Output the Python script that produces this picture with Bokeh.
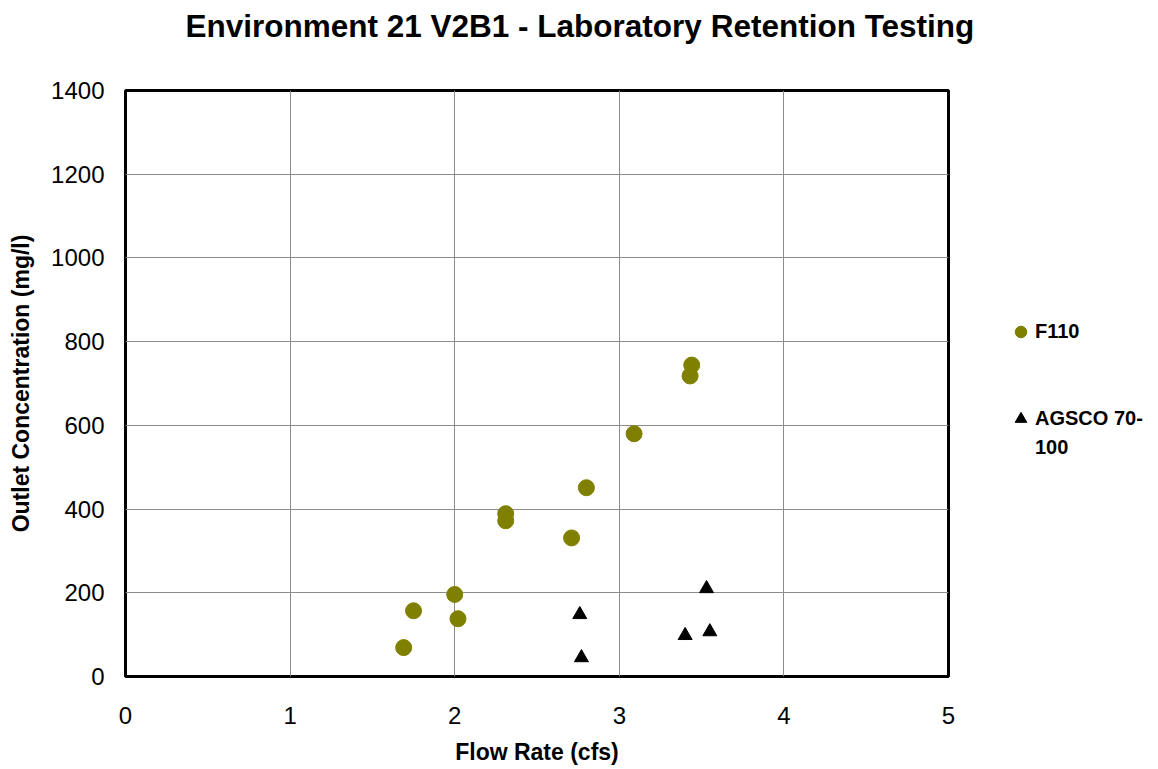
from bokeh.plotting import figure
from bokeh.layouts import row
from bokeh.models import Range1d, Legend, LegendItem, FixedTicker, Title
from bokeh.embed import file_html
from bokeh.resources import INLINE

f110_x = [1.69, 1.75, 2.00, 2.02, 2.31, 2.31, 2.71, 2.80, 3.09, 3.44, 3.43]
f110_y = [69, 157, 196, 138, 389, 372, 331, 451, 580, 744, 718]
agsco_x = [2.76, 2.77, 3.40, 3.55, 3.53]
agsco_y = [148, 45, 98, 107, 210]
x_ticks = [0, 1, 2, 3, 4, 5]
y_ticks = [0, 200, 400, 600, 800, 1000, 1200, 1400]
series_names = ["F110", "AGSCO 70-", "100"]

FONT = "Liberation Sans"
OLIVE = "#808000"

p = figure(width=990, height=767, output_backend="svg", toolbar_location=None,
           x_range=Range1d(0, 5), y_range=Range1d(0, 1400),
           min_border_left=125, min_border_right=42, min_border_top=90, min_border_bottom=90,
           title="Environment 21 V2B1 - Laboratory Retention Testing")

p.title.align = "left"
p.title.vertical_align = "top"
p.title.offset = 60
p.title.text_font = FONT
p.title.text_font_size = "31.5px"
p.title.text_font_style = "bold"
p.title.text_color = "black"
p.title.standoff = 10

# blank spacer between the title and the plot frame
p.add_layout(Title(text=" ", text_font=FONT, text_font_size="34px", standoff=0), "above")

p.outline_line_color = "black"
p.outline_line_width = 3

p.xaxis.ticker = FixedTicker(ticks=x_ticks)
p.yaxis.ticker = FixedTicker(ticks=y_ticks)
p.xgrid.ticker = FixedTicker(ticks=x_ticks)
p.ygrid.ticker = FixedTicker(ticks=y_ticks)
for g in (p.xgrid, p.ygrid):
    g.grid_line_color = "#8c8c8c"
    g.grid_line_width = 1

for ax in (p.xaxis, p.yaxis):
    ax.axis_line_color = None
    ax.major_tick_line_color = None
    ax.minor_tick_line_color = None
    ax.major_label_text_font = FONT
    ax.major_label_text_font_size = "24px"
    ax.major_label_text_color = "black"
    ax.axis_label_text_font = FONT
    ax.axis_label_text_font_size = "23px"
    ax.axis_label_text_font_style = "bold"
    ax.axis_label_text_color = "black"

p.xaxis.axis_label = "Flow Rate (cfs)"
p.yaxis.axis_label = "Outlet Concentration (mg/l)"
p.xaxis.major_label_standoff = 24
p.yaxis.major_label_standoff = 15
p.xaxis.axis_label_standoff = 12
p.yaxis.axis_label_standoff = 14

p.scatter(f110_x, f110_y, marker="circle", size=16, fill_color=OLIVE, line_color=OLIVE)
p.scatter(agsco_x, agsco_y, marker="triangle", size=14, fill_color="black", line_color="black")

# legend panel to the right of the plot
lg = figure(width=160, height=767, output_backend="svg", toolbar_location=None,
            x_range=Range1d(0, 1), y_range=Range1d(0, 1),
            min_border_left=0, min_border_right=0, min_border_top=0, min_border_bottom=0)
lg.axis.visible = False
lg.grid.visible = False
lg.outline_line_color = None
nan = float("nan")
d1 = lg.scatter(x=[nan], y=[nan], marker="circle", fill_color=OLIVE, line_color=OLIVE)
d2 = lg.scatter(x=[nan], y=[nan], marker="triangle", fill_color="black", line_color="black")
blank = lg.scatter(x=[nan], y=[nan], marker="circle", fill_alpha=0, line_alpha=0)

legend = Legend(items=[LegendItem(label=series_names[0], renderers=[d1]),
                       LegendItem(label=" ", renderers=[blank]),
                       LegendItem(label=" ", renderers=[blank]),
                       LegendItem(label=series_names[1], renderers=[d2]),
                       LegendItem(label=series_names[2], renderers=[blank])],
                location=(16, 214), border_line_color=None, background_fill_alpha=0,
                label_text_font=FONT, label_text_font_size="20px", label_text_font_style="bold",
                label_text_color="black",
                glyph_width=29, glyph_height=29, spacing=0, margin=0, padding=0,
                label_standoff=0)
lg.add_layout(legend)

layout = row(p, lg)
open("out.html", "w").write(file_html(layout, INLINE))
